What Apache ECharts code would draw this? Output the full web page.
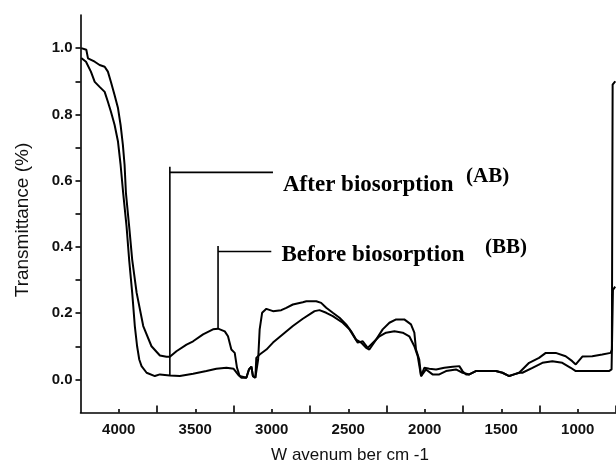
<!DOCTYPE html>
<html>
<head>
<meta charset="utf-8">
<style>
  html, body { margin: 0; padding: 0; background: #fff; }
  #chart { width: 616px; height: 463px; }
</style>
<script src="https://cdn.jsdelivr.net/npm/echarts@6/dist/echarts.min.js"></script>
</head>
<body>
<div id="chart"></div>
<script>
// FTIR spectra: [wavenumber (cm-1), transmittance]
const bbSpectrum = [
  [4245,1.0],[4212,0.995],[4201,0.969],[4157,0.959],[4125,0.949],[4092,0.944],[4071,0.929],[4051,0.898],
  [4027,0.858],[4005,0.819],[3988,0.768],[3973,0.708],[3962,0.648],[3953,0.562],[3932,0.462],[3912,0.361],
  [3883,0.261],[3840,0.161],[3786,0.100],[3731,0.072],[3688,0.068],[3666,0.068],[3623,0.085],[3557,0.105],
  [3514,0.115],[3449,0.136],[3384,0.151],[3351,0.153],[3307,0.145],[3286,0.130],[3264,0.090],[3242,0.080],
  [3227,0.035],[3210,0.010],[3198,0.005],[3166,0.005],[3149,0.030],[3133,0.038],[3123,0.010],[3107,0.005],
  [3101,0.065],[3079,0.075],[3035,0.090],[2992,0.111],[2927,0.136],[2862,0.161],[2797,0.183],[2753,0.196],
  [2720,0.206],[2688,0.209],[2644,0.201],[2601,0.191],[2536,0.171],[2492,0.151],[2438,0.111],[2405,0.115],
  [2373,0.095],[2362,0.090],[2296,0.130],[2253,0.141],[2198,0.145],[2144,0.141],[2101,0.130],[2068,0.100],
  [2046,0.070],[2024,0.010],[1992,0.030],[1949,0.015],[1905,0.015],[1861,0.025],[1796,0.030],[1753,0.020],
  [1709,0.015],[1666,0.025],[1600,0.025],[1535,0.025],[1492,0.020],[1448,0.010],[1416,0.015],[1383,0.020],
  [1362,0.020],[1296,0.035],[1231,0.050],[1166,0.055],[1101,0.050],[1046,0.035],[1013,0.025],[948,0.025],
  [796,0.025],[779,0.030],[770,0.270],[766,0.275],[755,0.280]
];

const abSpectrum = [
  [4245,0.970],[4234,0.974],[4214,0.959],[4182,0.929],[4157,0.898],[4125,0.883],[4092,0.868],[4071,0.838],
  [4051,0.808],[4027,0.768],[4005,0.718],[3988,0.648],[3971,0.562],[3949,0.462],[3932,0.361],[3912,0.261],
  [3895,0.161],[3880,0.100],[3866,0.060],[3851,0.040],[3818,0.020],[3764,0.010],[3731,0.015],[3666,0.012],
  [3601,0.010],[3514,0.017],[3427,0.025],[3362,0.032],[3296,0.035],[3249,0.032],[3221,0.015],[3198,0.005],
  [3166,0.005],[3149,0.030],[3133,0.038],[3123,0.010],[3107,0.005],[3089,0.060],[3079,0.151],[3063,0.201],
  [3035,0.213],[2992,0.206],[2938,0.209],[2905,0.216],[2862,0.226],[2797,0.233],[2774,0.236],[2709,0.236],
  [2677,0.231],[2644,0.216],[2601,0.201],[2557,0.186],[2514,0.166],[2481,0.145],[2449,0.120],[2416,0.111],
  [2383,0.095],[2362,0.090],[2318,0.120],[2275,0.151],[2231,0.171],[2187,0.181],[2134,0.181],[2090,0.166],
  [2068,0.141],[2057,0.090],[2036,0.060],[2024,0.010],[2003,0.035],[1970,0.032],[1926,0.030],[1872,0.035],
  [1818,0.038],[1774,0.040],[1753,0.025],[1731,0.015],[1709,0.015],[1666,0.025],[1600,0.025],[1535,0.025],
  [1492,0.020],[1448,0.010],[1416,0.015],[1383,0.020],[1318,0.050],[1253,0.065],[1209,0.080],[1144,0.080],
  [1079,0.070],[1036,0.055],[1013,0.045],[970,0.069],[905,0.070],[840,0.075],[785,0.080],[777,0.090],
  [772,0.890],[755,0.900]
];

// Callout leaders (data coordinates): vertical stem + horizontal arm
const abLeaderStem = [[3666,0.012],[3666,0.642]];
const abLeaderArm  = [[3666,0.625],[2992,0.625]];
const bbLeaderStem = [[3351,0.153],[3351,0.403]];
const bbLeaderArm  = [[3351,0.386],[3003,0.386]];

// Axis ticks and labels
const xLabelValues = [4000,3500,3000,2500,2000,1500,1000];
const xLongTicks   = [3750,3250,2750,2250,1750,1250,750];
const yTickValues  = [0,0.1,0.2,0.3,0.4,0.5,0.6,0.7,0.8,0.9,1.0];
const yLabelValues = [0,0.2,0.4,0.6,0.8,1.0];

const INK = '#000';
const sans = '"Liberation Sans", Arial, sans-serif';
const serif = '"Liberation Serif", "Times New Roman", serif';

const chart = echarts.init(document.getElementById('chart'), null, { renderer: 'canvas' });

function spectrum(name, data) {
  return {
    name, type: 'line', data, xAxisIndex: 0, yAxisIndex: 0,
    showSymbol: false, symbol: 'none', smooth: false,
    lineStyle: { color: INK, width: 2 }, z: 3
  };
}
function leader(data) {
  return {
    type: 'line', data, xAxisIndex: 0, yAxisIndex: 0,
    showSymbol: false, symbol: 'none',
    lineStyle: { color: INK, width: 1.6 }, z: 4, silent: true
  };
}

chart.setOption({
  animation: false,
  backgroundColor: '#fff',
  grid: { left: 80.5, top: 15, width: 536.5, height: 397.5, containLabel: false },
  xAxis: [{
    type: 'value', inverse: true, min: 750, max: 4250,
    position: 'bottom',
    axisLine: { onZero: false, lineStyle: { color: INK, width: 1.6 } },
    axisTick: { show: true, inside: true, length: 7, customValues: xLongTicks,
                lineStyle: { color: INK, width: 1.6 } },
    axisLabel: { customValues: xLabelValues, margin: 10, color: '#111',
                 fontFamily: sans, fontSize: 15, fontWeight: 'bold',
                 formatter: v => String(v) },
    splitLine: { show: false }
  }, {
    type: 'value', inverse: true, min: 750, max: 4250,
    position: 'bottom', offset: 0, gridIndex: 0,
    axisLine: { show: false, onZero: false },
    axisTick: { show: true, inside: true, length: 3.5, customValues: xLabelValues,
                lineStyle: { color: INK, width: 1.6 } },
    axisLabel: { show: false },
    splitLine: { show: false }
  }],
  yAxis: {
    type: 'value', min: -0.1, max: 1.1,
    axisLine: { show: true, onZero: false, lineStyle: { color: INK, width: 1.6 } },
    axisTick: { show: true, inside: false, length: 5, customValues: yTickValues,
                lineStyle: { color: INK, width: 1.6 } },
    axisLabel: { customValues: yLabelValues, margin: 8, color: '#111',
                 fontFamily: sans, fontSize: 15, fontWeight: 'bold',
                 formatter: v => Number(v).toFixed(1) },
    splitLine: { show: false }
  },
  series: [
    spectrum('Before biosorption (BB)', bbSpectrum),
    spectrum('After biosorption (AB)', abSpectrum),
    leader(abLeaderStem), leader(abLeaderArm),
    leader(bbLeaderStem), leader(bbLeaderArm)
  ],
  graphic: [
    { type: 'text', x: 23, y: 220, rotation: Math.PI / 2,
      style: { text: 'Transmittance (%)', font: '19px ' + sans, fill: '#111',
               align: 'center', verticalAlign: 'middle' } },
    { type: 'text', x: 350, y: 455,
      style: { text: 'W avenum ber cm -1', font: '17px ' + sans, fill: '#111',
               align: 'center', verticalAlign: 'middle' } },
    { type: 'text', x: 283, y: 185,
      style: { text: 'After biosorption', font: 'bold 23px ' + serif, fill: INK,
               align: 'left', verticalAlign: 'middle' } },
    { type: 'text', x: 466, y: 177,
      style: { text: '(AB)', font: 'bold 21px ' + serif, fill: INK,
               align: 'left', verticalAlign: 'middle' } },
    { type: 'text', x: 281.5, y: 255,
      style: { text: 'Before biosorption', font: 'bold 23px ' + serif, fill: INK,
               align: 'left', verticalAlign: 'middle' } },
    { type: 'text', x: 485, y: 247.5,
      style: { text: '(BB)', font: 'bold 21px ' + serif, fill: INK,
               align: 'left', verticalAlign: 'middle' } }
  ]
});
</script>
</body>
</html>
